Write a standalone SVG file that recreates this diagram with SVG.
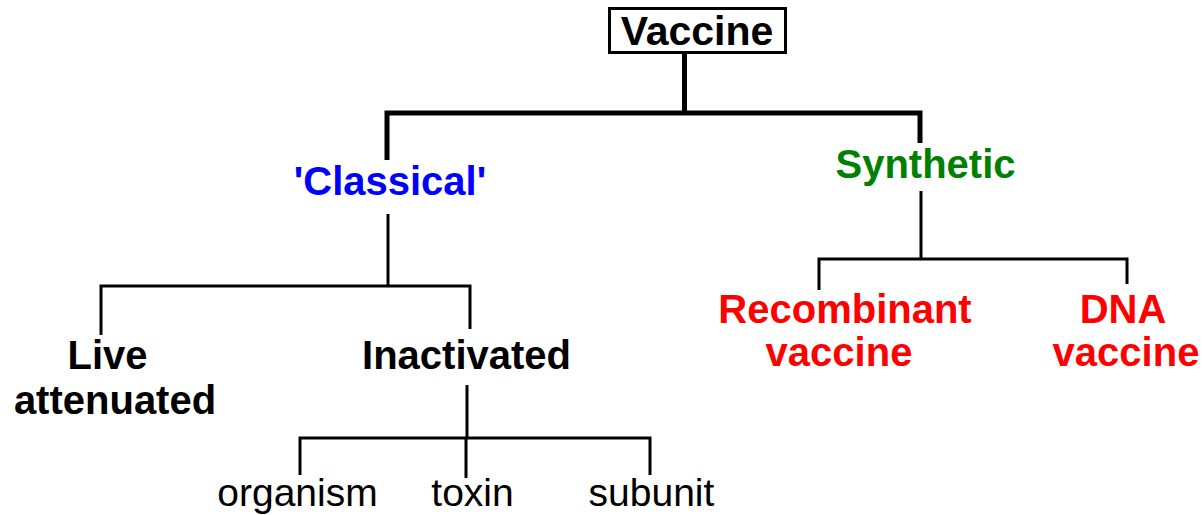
<svg xmlns="http://www.w3.org/2000/svg" width="1202" height="515" viewBox="0 0 1202 515">
<style>
.t{font-family:"Liberation Sans",Arial,sans-serif;font-size:40px;font-weight:bold;text-anchor:middle}
.s{font-family:"Liberation Sans",Arial,sans-serif;font-size:39px;text-anchor:middle;fill:#000}
.k{fill:#000}.b{fill:#0000FF}.g{fill:#008000}.r{fill:#FF0000}
.thick{stroke:#000;stroke-width:5;fill:none}
.thin{stroke:#000;stroke-width:3;fill:none}
</style>
<rect width="1202" height="515" fill="#fff"/>
<g id="connectors">
<path class="thick" d="M684.5 54V113M387 160V113H920V143"/>
<path class="thin" d="M388 214V286M101 335V286H470V329"/>
<path class="thin" d="M467 385V438M300 475V438H650V475M466 438V478"/>
<path class="thin" d="M921 191V259M819 290V259H1127V284"/>
</g>
<g id="vaccine">
<rect x="609.5" y="8.5" width="176" height="44" fill="#fff" stroke="#000" stroke-width="3"/>
<text class="t k" x="697" y="45" style="font-size:41px">Vaccine</text>
</g>
<g id="classical"><text class="t b" x="390" y="195">'Classical'</text></g>
<g id="synthetic"><text class="t g" x="925.5" y="178">Synthetic</text></g>
<g id="live"><text class="t k" y="369"><tspan x="107.5">Live</tspan><tspan x="115" y="414">attenuated</tspan></text></g>
<g id="inactivated"><text class="t k" x="466.5" y="369">Inactivated</text></g>
<g id="recombinant"><text class="t r" y="323"><tspan x="845">Recombinant</tspan><tspan x="839" y="366">vaccine</tspan></text></g>
<g id="dna"><text class="t r" y="323"><tspan x="1123">DNA</tspan><tspan x="1126" y="366">vaccine</tspan></text></g>
<g id="organism"><text class="s" x="297.5" y="506">organism</text></g>
<g id="toxin"><text class="s" x="472.5" y="506">toxin</text></g>
<g id="subunit"><text class="s" x="651.5" y="506">subunit</text></g>
</svg>
